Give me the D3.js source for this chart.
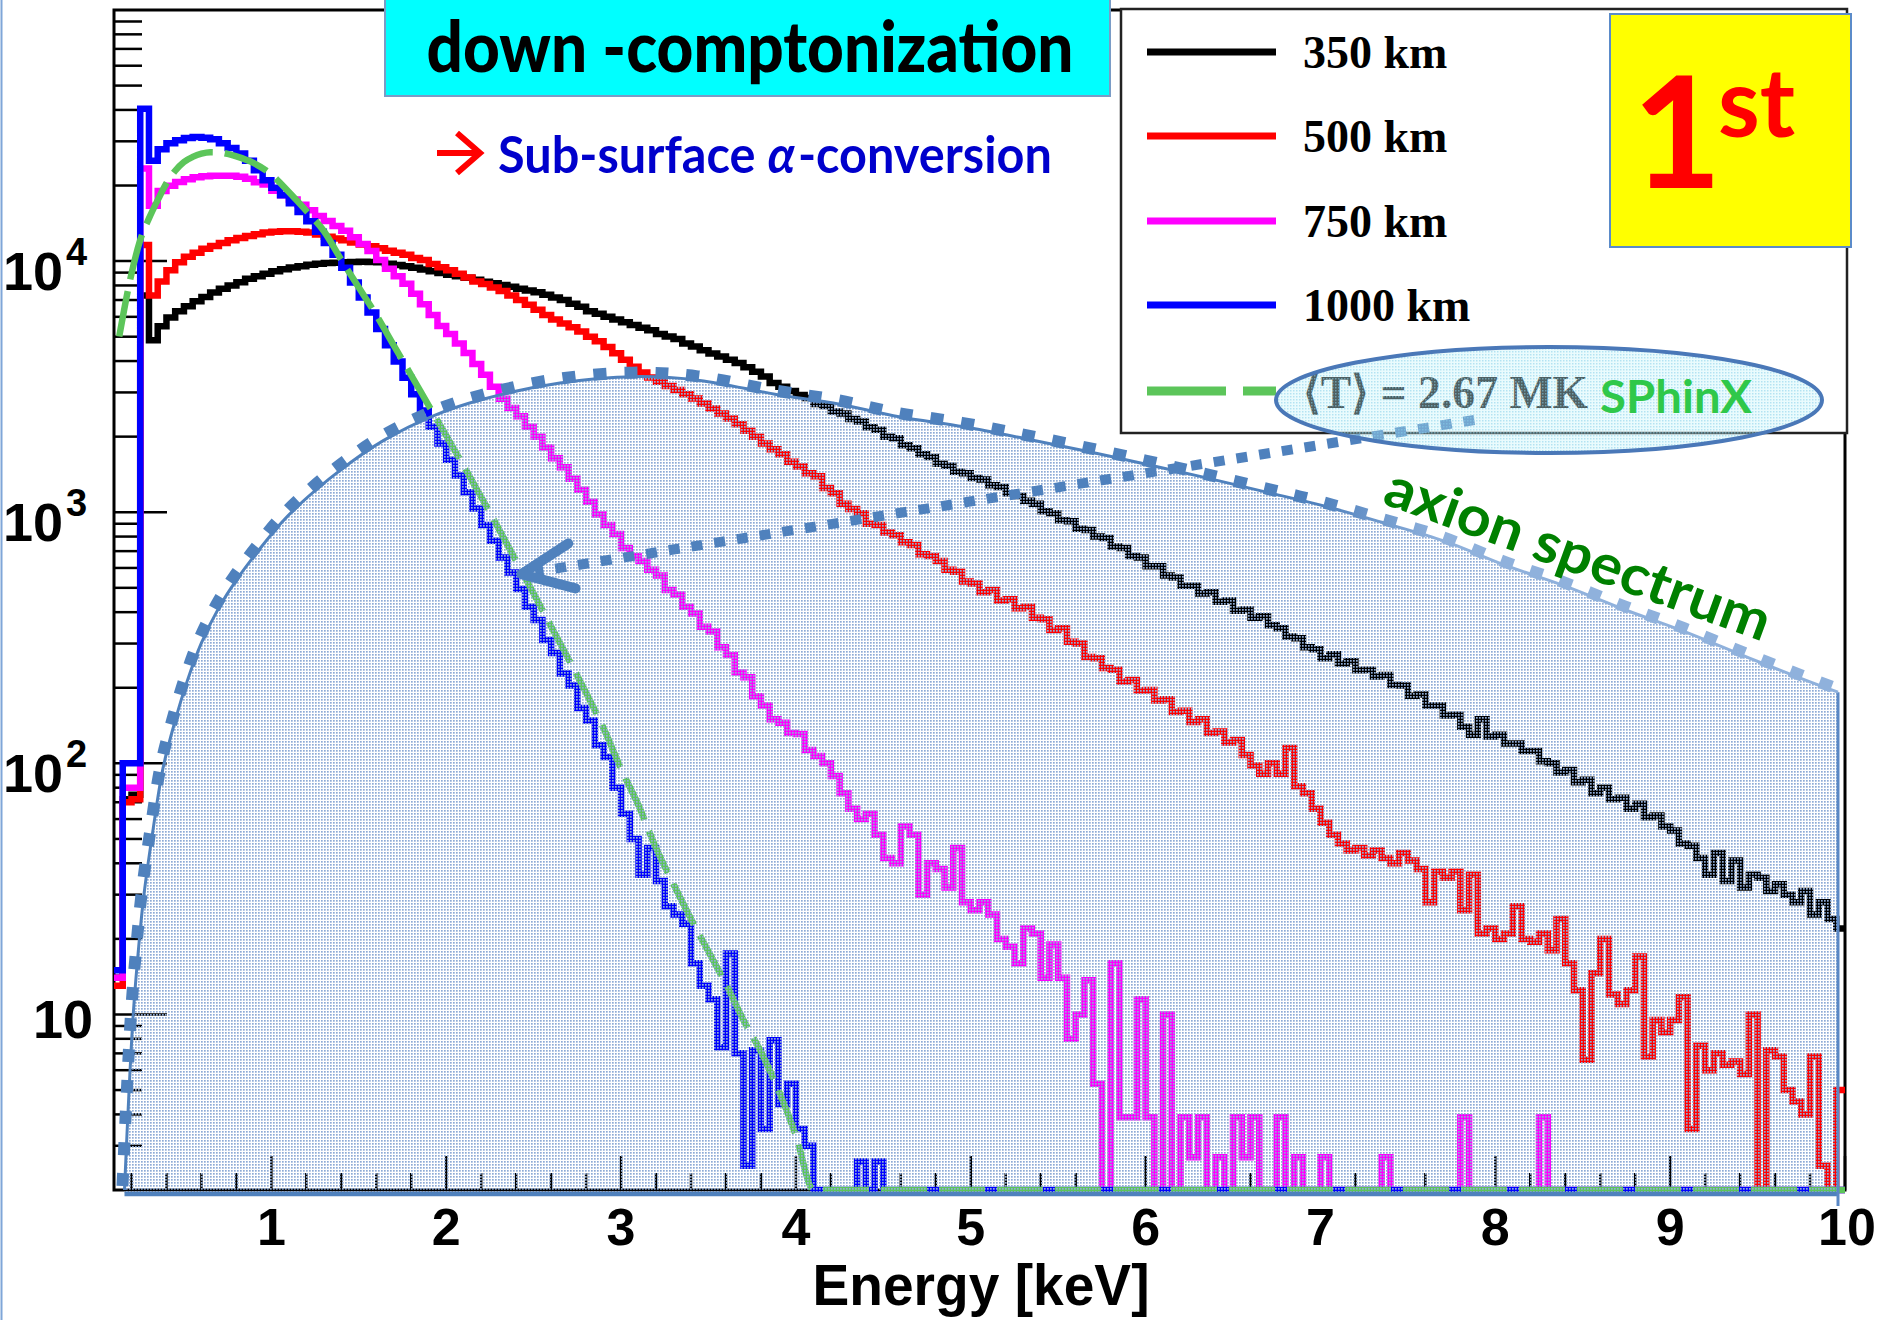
<!DOCTYPE html>
<html>
<head>
<meta charset="utf-8">
<title>Down-comptonization spectra</title>
<script src="https://cdn.jsdelivr.net/npm/d3@7/dist/d3.min.js"></script>
<style>
  html, body { margin: 0; padding: 0; background: #ffffff; }
  svg { display: block; }
</style>
</head>
<body>
<svg id="chart" width="1887" height="1320" xmlns="http://www.w3.org/2000/svg"></svg>
<script>
// Histogram binning in keV: bins of 0.05 keV from 0.10 keV up to 10.00 keV
const binStart = 0.10;
const binWidth = 0.05;

// Simulated photon counts per bin for four conversion depths
const counts350km = [
  14, 72, 75, 7300, 4840, 5500, 5960, 6310, 6610, 6920,
  7190, 7500, 7760, 8000, 8240, 8510, 8710, 8910, 9120, 9290,
  9440, 9550, 9680, 9770, 9820, 9860, 9900, 9920, 9940, 9930,
  9900, 9770, 9660, 9550, 9420, 9270, 9120, 8970, 8830, 8710,
  8590, 8430, 8280, 8170, 8040, 7910, 7760, 7640, 7520, 7350,
  7160, 7000, 6760, 6580, 6310, 6170, 6000, 5860, 5710, 5570,
  5430, 5300, 5130, 5010, 4900, 4700, 4570, 4420, 4290, 4170,
  4050, 3930, 3780, 3630, 3470, 3270, 3160, 3040, 2930, 2850,
  2700, 2650, 2520, 2470, 2350, 2300, 2180, 2130, 2000, 1970,
  1850, 1800, 1700, 1660, 1560, 1530, 1450, 1430, 1370, 1350,
  1280, 1260, 1190, 1160, 1110, 1080, 1010, 990, 930, 920,
  860, 850, 800, 790, 730, 720, 670, 660, 610, 610,
  560, 550, 510, 510, 475, 480, 440, 445, 405, 410,
  380, 385, 355, 345, 320, 315, 290, 285, 262, 272,
  250, 255, 235, 236, 222, 225, 205, 204, 186, 188,
  170, 170, 155, 156, 140, 130, 150, 128, 130, 120,
  120, 112, 112, 102, 100, 92, 94, 84, 86, 76,
  80, 72, 73, 66, 69, 61, 62, 56, 54, 48,
  47, 42, 36, 44, 34, 41, 32, 36, 35, 31,
  33, 30, 28, 31, 25, 28, 24, 22
];
const counts500km = [
  13, 70, 72, 11600, 7300, 8300, 9200, 9900, 10400, 10800,
  11200, 11500, 11800, 12100, 12350, 12600, 12800, 13000, 13100, 13150,
  13150, 13100, 13000, 12750, 12500, 12300, 12100, 11850, 11650, 11450,
  11250, 11000, 10800, 10600, 10300, 10100, 9750, 9450, 9200, 8900,
  8600, 8300, 8100, 7850, 7600, 7300, 7000, 6700, 6400, 6100,
  5850, 5650, 5450, 5250, 5000, 4800, 4550, 4300, 4050, 3800,
  3600, 3440, 3310, 3180, 3070, 2950, 2840, 2710, 2590, 2470,
  2360, 2240, 2110, 2000, 1880, 1780, 1700, 1590, 1520, 1430,
  1390, 1250, 1190, 1080, 1030, 990, 900, 890, 830, 810,
  760, 740, 680, 670, 640, 590, 580, 530, 520, 480,
  490, 445, 450, 415, 420, 380, 375, 340, 345, 305,
  300, 265, 262, 240, 236, 212, 215, 195, 196, 178,
  180, 160, 162, 146, 150, 132, 134, 121, 124, 108,
  98, 91, 100, 91, 115, 81, 76, 66, 58, 52,
  48, 45, 46, 43, 45, 42, 40, 44, 41, 38,
  28, 37, 35, 37, 26, 36, 21, 22, 20, 21,
  27, 20, 19.5, 21, 18, 24, 16, 12.5, 6.6, 14.6,
  20, 12, 11, 12.5, 17, 6.8, 9.5, 8.5, 9.5, 11.7,
  3.5, 7.5, 6, 7, 6.3, 6.5, 5.8, 10, 0, 7.2,
  6.8, 5, 4.5, 4, 6.8, 2.5, 0, 5
];
const counts750km = [
  14, 80, 80, 23400, 16600, 19000, 19950, 20650, 21200, 21600,
  21800, 21900, 21900, 21900, 21700, 21300, 20600, 20200, 19050, 18300,
  17600, 16750, 15960, 15140, 14450, 13800, 13200, 12450, 11700, 10960,
  10100, 9330, 8710, 8130, 7410, 6730, 6100, 5520, 5130, 4700,
  4310, 3890, 3530, 3160, 2830, 2600, 2410, 2190, 2000, 1810,
  1640, 1510, 1360, 1230, 1100, 980, 890, 820, 720, 670,
  640, 590, 560, 490, 470, 420, 395, 350, 335, 290,
  270, 230, 220, 185, 170, 150, 145, 132, 131, 113,
  107, 100, 89, 76, 66, 60, 63, 52, 42, 40,
  56, 52, 30, 40, 38, 32, 46, 28, 26, 28,
  25, 20, 18.6, 16, 22, 21, 14, 19, 14, 8,
  10, 13.7, 5.3, 0, 16, 3.9, 3.9, 11.5, 3.9, 0,
  10, 0, 3.9, 2.7, 3.9, 0, 2.7, 0, 3.9, 2.7,
  3.9, 0, 0, 3.9, 0, 2.7, 0, 0, 2.7, 0,
  0, 0, 0, 0, 0, 2.7, 0, 0, 0, 0,
  0, 0, 0, 0, 3.9, 0, 0, 0, 0, 0,
  0, 0, 0, 3.9, 0, 0, 0, 0, 0, 0,
  0, 0, 0, 0, 0, 0, 0, 0, 0, 0,
  0, 0, 0, 0, 0, 0, 0, 0, 0, 0,
  0, 0, 0, 0, 0, 0, 0, 0
];
const counts1000km = [
  15, 100, 100, 40400, 25100, 27900, 29500, 30300, 30900, 31200,
  31000, 30600, 29500, 28200, 26800, 25100, 23000, 21000, 19600, 18300,
  17000, 15700, 14400, 13100, 11800, 10600, 9400, 8220, 7160, 6240,
  5370, 4620, 3980, 3430, 2950, 2540, 2190, 1880, 1620, 1400,
  1200, 1035, 890, 770, 660, 575, 495, 420, 372, 310,
  275, 228, 204, 166, 148, 118, 106, 80, 63, 50,
  36, 46, 34, 27, 25, 23, 16, 13, 11.5, 7.4,
  17.5, 7, 2.5, 7.2, 3.5, 7.9, 4.4, 5.3, 3.5, 3,
  0, 0, 0, 0, 0, 2.6, 0, 2.6, 0, 0,
  0, 0, 0, 0, 0, 0, 0, 0, 0, 0,
  0, 0, 0, 0, 0, 0, 0, 0, 0, 0,
  0, 0, 0, 0, 0, 0, 0, 0, 0, 0,
  0, 0, 0, 0, 0, 0, 0, 0, 0, 0,
  0, 0, 0, 0, 0, 0, 0, 0, 0, 0,
  0, 0, 0, 0, 0, 0, 0, 0, 0, 0,
  0, 0, 0, 0, 0, 0, 0, 0, 0, 0,
  0, 0, 0, 0, 0, 0, 0, 0, 0, 0,
  0, 0, 0, 0, 0, 0, 0, 0, 0, 0,
  0, 0, 0, 0, 0, 0, 0, 0, 0, 0,
  0, 0, 0, 0, 0, 0, 0, 0
];

// SPhinX thermal model, <T> = 2.67 MK
const sphinxEnergy = [0.13, 0.2, 0.25, 0.3, 0.35, 0.4, 0.45, 0.5, 0.55, 0.6, 0.65, 0.7, 0.75, 0.8, 0.9,
  1.0, 1.1, 1.2, 1.3, 1.4, 1.5, 1.6, 1.7, 1.8, 1.9, 2.0, 2.2, 2.4, 2.6, 2.8, 2.9, 3.0, 3.1, 3.2, 3.3,
  3.4, 3.5, 3.6, 3.7, 3.8, 3.9, 4.0, 4.1, 4.2, 10.0];
const sphinxFlux = [5010, 8910, 12130, 14790, 17500, 20420, 22910, 24830, 26000, 26790, 27160, 27100, 26730, 26120, 24550,
  22130, 18840, 15850, 13180, 10120, 7850, 6100, 4620, 3510, 2660, 2020, 1150, 640, 351, 191, 138, 95, 68, 46, 33,
  24, 17.8, 13.2, 9.5, 7.1, 5.0, 3.3, 2.0, 1.3, 1.3];

// Axion spectrum envelope
const axionEnergy = [0.16, 0.185, 0.21, 0.24, 0.27, 0.32, 0.38, 0.45, 0.52, 0.6, 0.7, 0.8, 0.94, 1.06, 1.16,
  1.38, 1.64, 1.93, 2.21, 2.65, 3.08, 3.45, 3.88, 4.25, 4.59, 4.96, 5.30, 5.65, 6.01, 6.33, 6.72, 7.02,
  7.35, 7.71, 8.05, 8.40, 8.75, 9.09, 9.45, 9.77, 9.96];
const axionFlux = [2.0, 4.8, 10, 18.2, 29.5, 52.5, 95.5, 148, 214, 302, 417, 537, 724, 912, 1072,
  1445, 1928, 2427, 2818, 3273, 3467, 3350, 2951, 2692, 2399, 2188, 1972, 1758, 1549, 1380, 1189, 1059,
  912, 767, 617, 508, 407, 333, 263, 215, 192];

// Annotation arrow (energy, flux) from the axion curve back to the SPhinX curve
const arrowTail = [7.88, 2330];
const arrowTip = [2.43, 567];

// Axis labels
const xTickValues = [1, 2, 3, 4, 5, 6, 7, 8, 9, 10];
const yLabelValues = [10, 100, 1000, 10000];
const yLabelExponents = ["", "2", "3", "4"];
const seriesNames = ["350 km", "500 km", "750 km", "1000 km"];
const modelLabel = "\u27E8T\u27E9 = 2.67 MK";

// ---------------------------------------------------------------------------
const svg = d3.select("#chart");
const plot = { left: 114, right: 1845, top: 10, bottom: 1190 };
const yMin = 2, yMax = 1e5;
const x = d3.scaleLinear().domain([0.1, 10]).range([plot.left, plot.right]);
const y = d3.scaleLog().domain([yMin, yMax]).range([plot.bottom, plot.top]).clamp(true);
const yOf = v => y(Math.max(v, yMin));

const sansBold = "'Liberation Sans', Arial, Helvetica, sans-serif";
const serifBold = "'Liberation Serif', 'Times New Roman', serif";
const humanist = "Lato, 'Open Sans', 'Noto Sans', sans-serif";

const defs = svg.append("defs");
const axTex = defs.append("pattern").attr("id", "axionTexture")
  .attr("width", 3).attr("height", 3).attr("patternUnits", "userSpaceOnUse");
axTex.append("rect").attr("width", 1.7).attr("height", 1.7).attr("fill", "#8eabd6");
const elTex = defs.append("pattern").attr("id", "ellipseTexture")
  .attr("width", 3).attr("height", 3).attr("patternUnits", "userSpaceOnUse");
elTex.append("rect").attr("width", 3).attr("height", 3).attr("fill", "#bff3fb").attr("fill-opacity", 0.32);
elTex.append("rect").attr("width", 1.5).attr("height", 1.5).attr("fill", "#86cde8").attr("fill-opacity", 0.55);
defs.append("clipPath").attr("id", "plotClip").append("rect")
  .attr("x", plot.left).attr("y", plot.top).attr("width", plot.right - plot.left + 2)
  .attr("height", plot.bottom - plot.top + 4);
const grad = defs.append("linearGradient").attr("id", "axionStroke")
  .attr("gradientUnits", "userSpaceOnUse").attr("x1", 1320).attr("x2", 1440).attr("y1", 0).attr("y2", 0);
grad.append("stop").attr("offset", 0).attr("stop-color", "#4f81bd");
grad.append("stop").attr("offset", 1).attr("stop-color", "#8fb1dc");

svg.append("rect").attr("width", 1887).attr("height", 1320).attr("fill", "#ffffff");
svg.append("line").attr("x1", 1.5).attr("x2", 1.5).attr("y1", 0).attr("y2", 1320)
  .attr("stroke", "#7fa6d8").attr("stroke-width", 2);

// ---- ticks (drawn inside the frame)
const tickG = svg.append("g").attr("stroke", "#000").attr("stroke-width", 2.5);
const yMinorTicks = [];
[1, 10, 100, 1000, 10000].forEach(d => {
  for (let m = 2; m <= 9; m++) { const v = m * d; if (v > yMin && v < yMax) yMinorTicks.push(v); }
});
tickG.selectAll(null).data(yMinorTicks).join("line")
  .attr("x1", plot.left).attr("x2", plot.left + 28).attr("y1", d => y(d)).attr("y2", d => y(d));
tickG.selectAll(null).data(yLabelValues).join("line")
  .attr("x1", plot.left).attr("x2", plot.left + 53).attr("y1", d => y(d)).attr("y2", d => y(d));
const xMinorTicks = d3.range(2, 100, 2).map(k => k / 10).filter(v => Math.abs(v - Math.round(v)) > 1e-6);
tickG.selectAll(null).data(xMinorTicks).join("line")
  .attr("x1", d => x(d)).attr("x2", d => x(d)).attr("y1", plot.bottom).attr("y2", plot.bottom - 17);
tickG.selectAll(null).data(xTickValues).join("line")
  .attr("x1", d => x(d)).attr("x2", d => x(d)).attr("y1", plot.bottom).attr("y2", plot.bottom - 34);

// ---- frame
svg.append("rect").attr("x", plot.left).attr("y", plot.top)
  .attr("width", plot.right - plot.left).attr("height", plot.bottom - plot.top)
  .attr("fill", "none").attr("stroke", "#000").attr("stroke-width", 3);

// ---- histograms
const series = [
  { name: seriesNames[0], values: counts350km, color: "#000000" },
  { name: seriesNames[1], values: counts500km, color: "#ff0000" },
  { name: seriesNames[2], values: counts750km, color: "#ff00ff" },
  { name: seriesNames[3], values: counts1000km, color: "#0000ff" }
];
const stepLine = d3.line().curve(d3.curveStepAfter).x(d => x(d[0])).y(d => yOf(d[1]));
function binPoints(vals) {
  const pts = vals.map((v, i) => [binStart + i * binWidth, v]);
  pts.push([binStart + vals.length * binWidth, vals[vals.length - 1]]);
  return pts;
}
const histG = svg.append("g").attr("clip-path", "url(#plotClip)");
histG.selectAll("path.hist").data(series).join("path").attr("class", "hist")
  .attr("d", d => stepLine(binPoints(d.values)))
  .attr("fill", "none").attr("stroke", d => d.color).attr("stroke-width", 6.5)
  .attr("stroke-linejoin", "miter");

// ---- SPhinX model
const smoothLine = d3.line().curve(d3.curveMonotoneX).x(d => x(d[0])).y(d => yOf(d[1]));
histG.append("path").attr("d", smoothLine(d3.zip(sphinxEnergy, sphinxFlux)))
  .attr("fill", "none").attr("stroke", "#5cc55a").attr("stroke-width", 6.5)
  .attr("stroke-dasharray", "46,12");

// ---- axion spectrum overlay
const axPts = d3.zip(axionEnergy, axionFlux);
const envelope = d3.line().curve(d3.curveCatmullRom.alpha(0.5)).x(d => x(d[0])).y(d => yOf(d[1]));
const topCurve = envelope(axPts);
const firstPt = axPts[0], lastPt = axPts[axPts.length - 1];
const baseY = plot.bottom + 4;
svg.append("path")
  .attr("d", topCurve + `L${x(lastPt[0])},${baseY}L${x(firstPt[0])},${baseY}Z`)
  .attr("fill", "url(#axionTexture)").attr("stroke", "none");
svg.append("line").attr("x1", x(firstPt[0])).attr("x2", x(lastPt[0]) - 1)
  .attr("y1", baseY).attr("y2", baseY).attr("stroke", "#4f81bd").attr("stroke-width", 4.5);
svg.append("line").attr("x1", x(lastPt[0])).attr("x2", x(lastPt[0]))
  .attr("y1", yOf(lastPt[1])).attr("y2", baseY + 12).attr("stroke", "#5a88c5").attr("stroke-width", 3);
svg.append("path").attr("d", topCurve).attr("fill", "none")
  .attr("stroke", "url(#axionStroke)").attr("stroke-width", 3);
svg.append("path").attr("d", topCurve).attr("fill", "none")
  .attr("transform", "translate(-2,-4)")
  .attr("stroke", "url(#axionStroke)").attr("stroke-width", 12).attr("stroke-dasharray", "13,18");

// ---- legend
const legend = svg.append("g");
legend.append("rect").attr("x", 1121).attr("y", 9).attr("width", 726).attr("height", 424)
  .attr("fill", "#ffffff").attr("stroke", "#222").attr("stroke-width", 2.5);
const rowY = [52, 136, 221, 305, 391];
series.forEach((s, i) => {
  legend.append("line").attr("x1", 1147).attr("x2", 1276).attr("y1", rowY[i]).attr("y2", rowY[i])
    .attr("stroke", s.color).attr("stroke-width", 7);
  legend.append("text").attr("x", 1303).attr("y", rowY[i] + 16)
    .attr("font-family", serifBold).attr("font-weight", "bold").attr("font-size", 46)
    .attr("fill", "#000").text(s.name);
});
legend.append("line").attr("x1", 1147).attr("x2", 1276).attr("y1", rowY[4]).attr("y2", rowY[4])
  .attr("stroke", "#5cc55a").attr("stroke-width", 9).attr("stroke-dasharray", "79,17");
legend.append("text").attr("x", 1303).attr("y", rowY[4] + 17)
  .attr("font-family", serifBold).attr("font-weight", "bold").attr("font-size", 46)
  .attr("textLength", 285).attr("lengthAdjust", "spacingAndGlyphs")
  .attr("fill", "#1a1a1a").text(modelLabel);

// ---- arrow from the axion curve to the SPhinX curve
const tipX = x(arrowTip[0]), tipY = yOf(arrowTip[1]);
const tailX = x(arrowTail[0]), tailY = yOf(arrowTail[1]);
const ang = Math.atan2(tailY - tipY, tailX - tipX);
svg.append("line").attr("x1", tailX).attr("y1", tailY)
  .attr("x2", tipX + 14 * Math.cos(ang)).attr("y2", tipY + 14 * Math.sin(ang))
  .attr("stroke", "#4f81bd").attr("stroke-width", 10).attr("stroke-dasharray", "11,12");
const armLen = 56, spread = 24 * Math.PI / 180;
svg.append("path")
  .attr("d", `M${tipX + armLen * Math.cos(ang - spread)},${tipY + armLen * Math.sin(ang - spread)}` +
             `L${tipX},${tipY}` +
             `L${tipX + armLen * Math.cos(ang + spread)},${tipY + armLen * Math.sin(ang + spread)}`)
  .attr("fill", "none").attr("stroke", "#4f81bd").attr("stroke-width", 10)
  .attr("stroke-linecap", "round").attr("stroke-linejoin", "round");

// ---- SPhinX ellipse
svg.append("ellipse").attr("cx", 1549).attr("cy", 400).attr("rx", 273).attr("ry", 53)
  .attr("fill", "url(#ellipseTexture)").attr("stroke", "#4a78b8").attr("stroke-width", 4);
svg.append("text").attr("x", 1600).attr("y", 413)
  .attr("font-family", humanist).attr("font-weight", "bold").attr("font-size", 46)
  .attr("textLength", 152).attr("lengthAdjust", "spacingAndGlyphs")
  .attr("fill", "#2fc84a").text("SPhinX");

// ---- axion spectrum caption
svg.append("text").attr("transform", "translate(1381,503) rotate(20)")
  .attr("font-family", humanist).attr("font-weight", "bold").attr("font-size", 56)
  .attr("textLength", 406).attr("lengthAdjust", "spacingAndGlyphs")
  .attr("fill", "#008000").text("axion spectrum");

// ---- title box
svg.append("rect").attr("x", 385).attr("y", -4).attr("width", 725).attr("height", 100)
  .attr("fill", "#00ffff").attr("stroke", "#7a9cc6").attr("stroke-width", 2);
svg.append("text").attr("x", 750).attr("y", 72).attr("text-anchor", "middle")
  .attr("font-family", humanist).attr("font-weight", 900).attr("font-size", 70)
  .attr("textLength", 647).attr("lengthAdjust", "spacingAndGlyphs")
  .attr("fill", "#000").text("down -comptonization");

// ---- subtitle: pieces laid out one after another, then fitted to the line width
svg.append("path").attr("d", "M437,153H479M457,133L480,153L457,173")
  .attr("fill", "none").attr("stroke", "#ff0000").attr("stroke-width", 6);
const subG = svg.append("g").attr("font-family", humanist).attr("font-weight", "bold")
  .attr("font-size", 52).attr("fill", "#0000cc");
const subParts = [
  { text: "Sub-surface", italic: false, gapAfter: 13 },
  { text: "\u03B1", italic: true, gapAfter: 3 },
  { text: "-conversion", italic: false, gapAfter: 0 }
];
let cursor = 0;
const subNodes = subParts.map(p => {
  const t = subG.append("text").attr("x", cursor).attr("y", 0)
    .attr("font-style", p.italic ? "italic" : "normal").text(p.text);
  const w = t.node().getComputedTextLength();
  cursor += w + p.gapAfter;
  return t;
});
const subScale = 554 / cursor;
subG.attr("transform", `translate(498,173) scale(${subScale},1)`);

// ---- "1st" badge
svg.append("rect").attr("x", 1610).attr("y", 14).attr("width", 241).attr("height", 233)
  .attr("fill", "#ffff00").attr("stroke", "#5b8bc9").attr("stroke-width", 2);
const badge = svg.append("g").attr("font-family", humanist).attr("font-weight", "bold").attr("fill", "#ff0000");
badge.append("text").attr("x", 1632).attr("y", 188).attr("font-size", 155).text("1");
badge.append("text").attr("x", 1718).attr("y", 137).attr("font-size", 95).text("st");

// ---- tick labels
const xLab = svg.append("g").attr("font-family", sansBold).attr("font-weight", "bold")
  .attr("font-size", 52).attr("fill", "#000").attr("text-anchor", "middle");
xLab.selectAll(null).data(xTickValues).join("text")
  .attr("x", d => x(d) + (d === 10 ? 2 : 0)).attr("y", 1245).text(d => d);

const yLab = svg.append("g").attr("font-family", sansBold).attr("font-weight", "bold").attr("fill", "#000");
yLabelValues.forEach((v, i) => {
  const ty = y(v);
  if (yLabelExponents[i] === "") {
    yLab.append("text").attr("x", 93).attr("y", ty + 24).attr("text-anchor", "end")
      .attr("font-size", 54).text("10");
  } else {
    yLab.append("text").attr("x", 63).attr("y", ty + 29).attr("text-anchor", "end")
      .attr("font-size", 54).text("10");
    yLab.append("text").attr("x", 66).attr("y", ty + 4).attr("font-size", 38).text(yLabelExponents[i]);
  }
});

svg.append("text").attr("x", 981).attr("y", 1305).attr("text-anchor", "middle")
  .attr("font-family", sansBold).attr("font-weight", "bold").attr("font-size", 58)
  .attr("textLength", 337).attr("lengthAdjust", "spacingAndGlyphs")
  .attr("fill", "#000").text("Energy [keV]");
</script>
</body>
</html>
